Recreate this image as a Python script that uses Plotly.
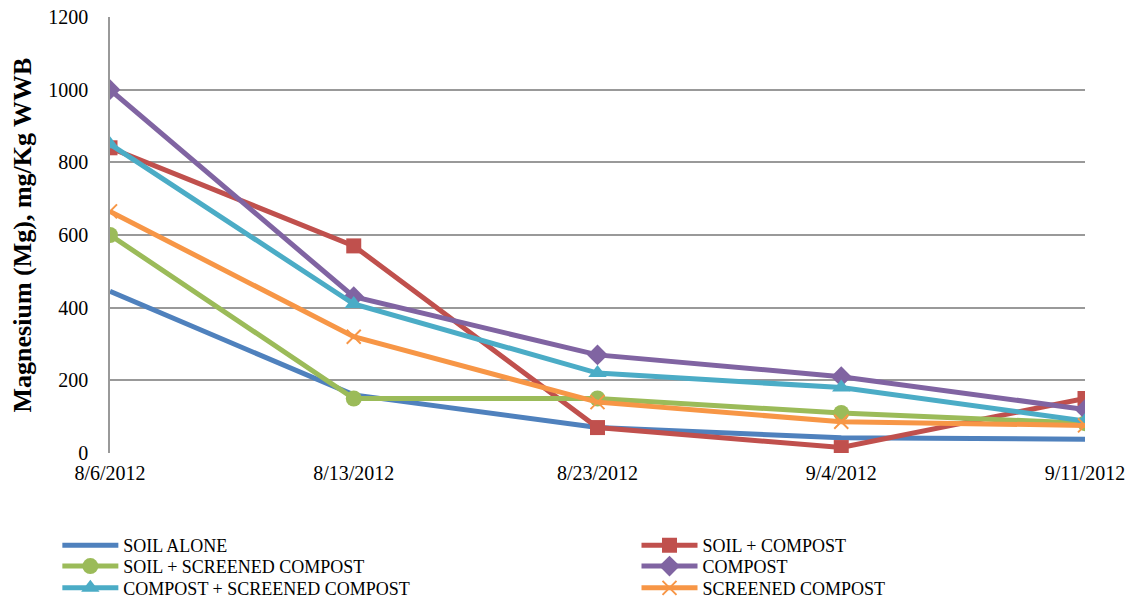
import plotly.graph_objects as go

dates = ["8/6/2012", "8/13/2012", "8/23/2012", "9/4/2012", "9/11/2012"]

soil_alone = [445, 160, 70, 42, 38]
soil_compost = [840, 570, 70, 15, 150]
soil_screened = [600, 150, 150, 110, 82]
compost = [1000, 430, 270, 210, 120]
compost_screened = [850, 410, 220, 180, 88]
screened = [665, 320, 140, 86, 76]

y_ticks = [0, 200, 400, 600, 800, 1000, 1200]

series = [
    ("SOIL ALONE", soil_alone, "#4F81BD", None, 0),
    ("SOIL + COMPOST", soil_compost, "#C0504D", "square", 15),
    ("SOIL + SCREENED COMPOST", soil_screened, "#9BBB59", "circle", 16),
    ("COMPOST", compost, "#8064A2", "diamond", 16),
    ("COMPOST + SCREENED COMPOST", compost_screened, "#4BACC6", "triangle-up", 16),
    ("SCREENED COMPOST", screened, "#F79646", "x-thin", 14),
]

font = "Liberation Serif, Times New Roman, serif"

# Legend laid out as a 2-column grid, one legend box per entry
legend_cols = [-0.054, 0.540]
legend_rows = [-0.212, -0.26, -0.31]

fig = go.Figure()
legend_layout = {}
for i, (name, vals, color, sym, size) in enumerate(series):
    if sym is None:
        mode = "lines"
        marker = dict()
    elif sym == "x-thin":
        mode = "lines+markers"
        marker = dict(symbol=sym, size=size, color=color,
                      line=dict(color=color, width=2))
    else:
        mode = "lines+markers"
        marker = dict(symbol=sym, size=size, color=color)
    key = "legend" if i == 0 else f"legend{i + 1}"
    fig.add_trace(go.Scatter(
        x=dates, y=vals, name=name, mode=mode,
        line=dict(color=color, width=5),
        marker=marker, legend=key,
    ))
    legend_layout[key] = dict(
        x=legend_cols[i % 2], y=legend_rows[i // 2],
        xanchor="left", yanchor="middle",
        font=dict(family=font, size=18, color="black"),
        itemwidth=56, bgcolor="rgba(0,0,0,0)",
    )

fig.update_layout(
    width=1137, height=603,
    margin=dict(l=110, r=52, t=17, b=150, autoexpand=False),
    paper_bgcolor="white", plot_bgcolor="white",
    font=dict(family=font, size=20, color="black"),
    showlegend=True,
    xaxis=dict(
        type="category", range=[0, 4],
        showgrid=False, showline=False, zeroline=False,
        ticks="", tickfont=dict(size=20), ticklabelstandoff=6,
    ),
    yaxis=dict(
        range=[0, 1200], tickvals=y_ticks,
        showgrid=True, gridcolor="#999999", gridwidth=1.5,
        showline=True, linecolor="#999999", linewidth=1.5,
        zeroline=False, ticks="", tickfont=dict(size=20),
        ticklabelstandoff=16,
        title=dict(text="<b>Magnesium (Mg), mg/Kg WWB</b>",
                   font=dict(size=26), standoff=9),
    ),
    **legend_layout,
)

fig.write_html("out.html")
